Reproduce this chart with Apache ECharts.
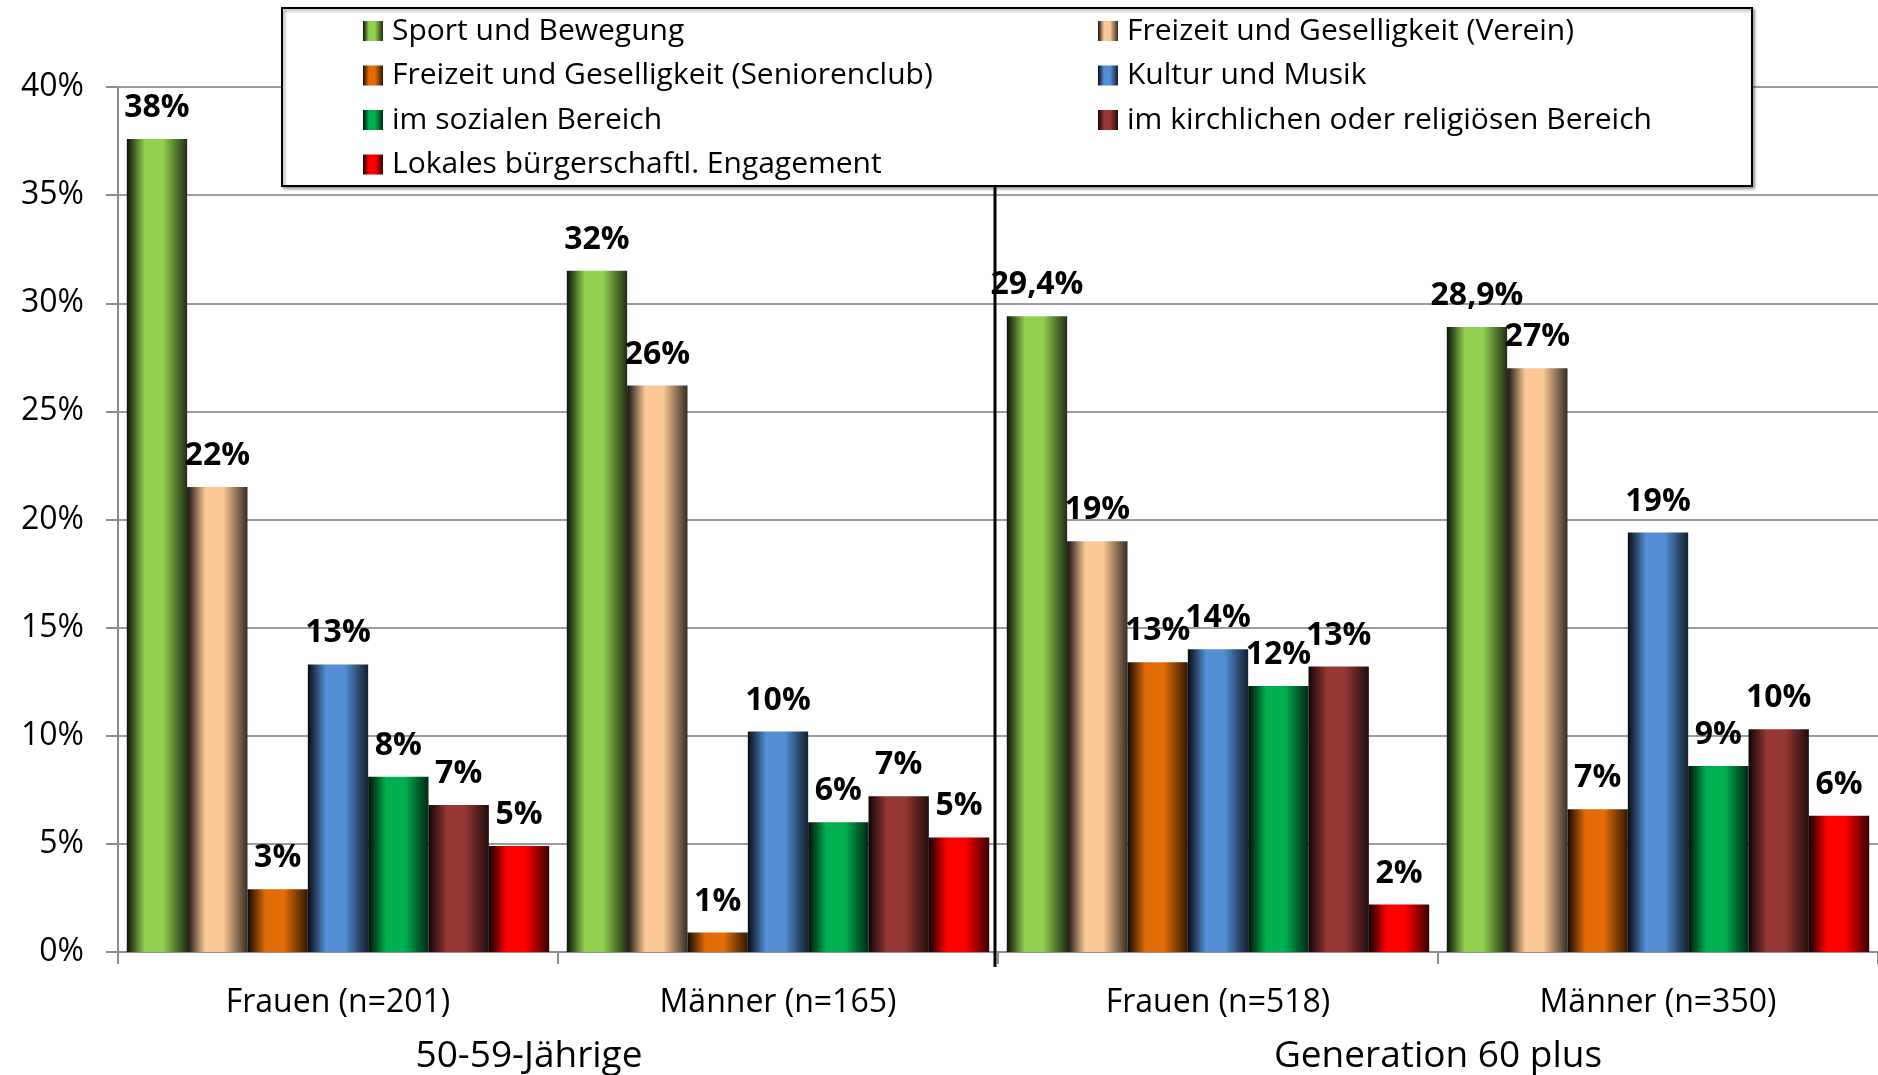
<!DOCTYPE html>
<html>
<head>
<meta charset="utf-8">
<script src="https://cdn.jsdelivr.net/npm/echarts@6/dist/echarts.min.js"></script>
<style>
  html, body { margin: 0; padding: 0; background: #fff; }
  #chart { width: 1878px; height: 1075px; }
</style>
</head>
<body>
<div id="chart"></div>
<script>
const categories = ["Frauen (n=201)", "Männer (n=165)", "Frauen (n=518)", "Männer (n=350)"];
const groups = ["50-59-Jährige", "Generation 60 plus"];
const seriesNames = [
  "Sport und Bewegung",
  "Freizeit und Geselligkeit (Verein)",
  "Freizeit und Geselligkeit (Seniorenclub)",
  "Kultur und Musik",
  "im sozialen Bereich",
  "im kirchlichen oder religiösen Bereich",
  "Lokales bürgerschaftl. Engagement",
];
const colors = ["#92D050", "#FAC896", "#E36C09", "#558ED5", "#00B050", "#953735", "#FF0000"];

const sport = [37.6, 31.5, 29.4, 28.9];
const verein = [21.5, 26.2, 19.0, 27.0];
const senioren = [2.9, 0.9, 13.4, 6.6];
const kultur = [13.3, 10.2, 14.0, 19.4];
const sozial = [8.1, 6.0, 12.3, 8.6];
const kirche = [6.8, 7.2, 13.2, 10.3];
const lokal = [4.9, 5.3, 2.2, 6.3];
const sportLabels = ["38%", "32%", "29,4%", "28,9%"];

const yTicks = { min: 0, max: 40, interval: 5 };
const values = [sport, verein, senioren, kultur, sozial, kirche, lokal];

const FONT = "'Open Sans', 'Noto Sans', sans-serif";

function shade(hex, f) {
  const n = parseInt(hex.slice(1), 16);
  const r = Math.round(((n >> 16) & 255) * f);
  const g = Math.round(((n >> 8) & 255) * f);
  const b = Math.round((n & 255) * f);
  return `rgb(${r},${g},${b})`;
}

function barFill(hex) {
  return new echarts.graphic.LinearGradient(0, 0, 1, 0, [
    { offset: 0, color: shade(hex, 0.08) },
    { offset: 0.3, color: hex },
    { offset: 0.6, color: hex },
    { offset: 1, color: shade(hex, 0.22) },
  ]);
}

const chart = echarts.init(document.getElementById("chart"));

const legendText = { fontFamily: FONT, fontSize: 30, lineHeight: 30, color: "#000", padding: [0, 0, 0, 4] };

chart.setOption({
  animation: false,
  backgroundColor: "#fff",
  legend: [
    {
      data: [seriesNames[0], seriesNames[2], seriesNames[4], seriesNames[6]],
      orient: "vertical",
      left: 358,
      top: 11,
      icon: "rect",
      itemWidth: 20,
      itemHeight: 20,
      itemGap: 14.5,
      textStyle: legendText,
      z: 10,
    },
    {
      data: [seriesNames[1], seriesNames[3], seriesNames[5]],
      orient: "vertical",
      left: 1093,
      top: 11,
      icon: "rect",
      itemWidth: 20,
      itemHeight: 20,
      itemGap: 14.5,
      textStyle: legendText,
      z: 10,
    },
  ],
  grid: { left: 118, right: 0, top: 87, bottom: 122 },
  xAxis: [
    {
      type: "category",
      data: categories,
      axisLine: { lineStyle: { color: "#8c8c8c", width: 2 } },
      axisTick: { show: true, length: 12, lineStyle: { color: "#8c8c8c", width: 2 } },
      axisLabel: { fontFamily: FONT, fontSize: 32, color: "#000", margin: 35 },
    },
    {
      type: "category",
      data: groups,
      position: "bottom",
      axisLine: { show: false },
      axisTick: { show: false },
      axisLabel: {
        fontFamily: FONT,
        fontSize: 37,
        color: "#000",
        margin: 86,
        formatter: (v, i) => (i === 0 ? "{a|" + v + "}" : "{b|" + v + "}"),
        rich: {
          a: { fontFamily: FONT, fontSize: 37, color: "#000", padding: [0, 58, 0, 0] },
          b: { fontFamily: FONT, fontSize: 37, color: "#000" },
        },
      },
    },
  ],
  yAxis: {
    type: "value",
    min: yTicks.min,
    max: yTicks.max,
    interval: yTicks.interval,
    axisLine: { show: true, lineStyle: { color: "#8c8c8c", width: 2 } },
    axisTick: { show: true, length: 12, lineStyle: { color: "#8c8c8c", width: 2 } },
    axisLabel: { fontFamily: FONT, fontSize: 32, color: "#000", margin: 34, formatter: "{value}%" },
    splitLine: { lineStyle: { color: "#9c9c9c", width: 2 } },
  },
  series: seriesNames.map((name, s) => ({
    name,
    type: "bar",
    data: values[s],
    barGap: "0%",
    barCategoryGap: "4%",
    itemStyle: { color: barFill(colors[s]) },
    label: {
      show: true,
      position: "top",
      distance: 15,
      fontFamily: FONT,
      fontSize: 32,
      fontWeight: "bold",
      color: "#000",
      formatter: (p) => (s === 0 ? sportLabels[p.dataIndex] : Math.round(p.value) + "%"),
    },
  })),
});

// legend frame and group separator, placed from the axis scales
const frame = { x: 282, y: 8, width: 1470, height: 178 };
const sepX = (chart.convertToPixel({ xAxisIndex: 0 }, categories[1]) +
  chart.convertToPixel({ xAxisIndex: 0 }, categories[2])) / 2;
const y0 = chart.convertToPixel({ yAxisIndex: 0 }, 0);

chart.setOption({
  graphic: [
    {
      type: "rect",
      z: 5,
      shape: frame,
      style: { fill: "#fff", stroke: "#000", lineWidth: 2, shadowBlur: 3, shadowColor: "rgba(0,0,0,0.35)", shadowOffsetX: 2, shadowOffsetY: 2 },
    },
    {
      type: "line",
      z: 5,
      shape: { x1: sepX - 3, y1: frame.y + frame.height, x2: sepX - 3, y2: y0 + 15 },
      style: { stroke: "#000", lineWidth: 3 },
    },
  ],
});

window.addEventListener("resize", () => chart.resize());
</script>
</body>
</html>
